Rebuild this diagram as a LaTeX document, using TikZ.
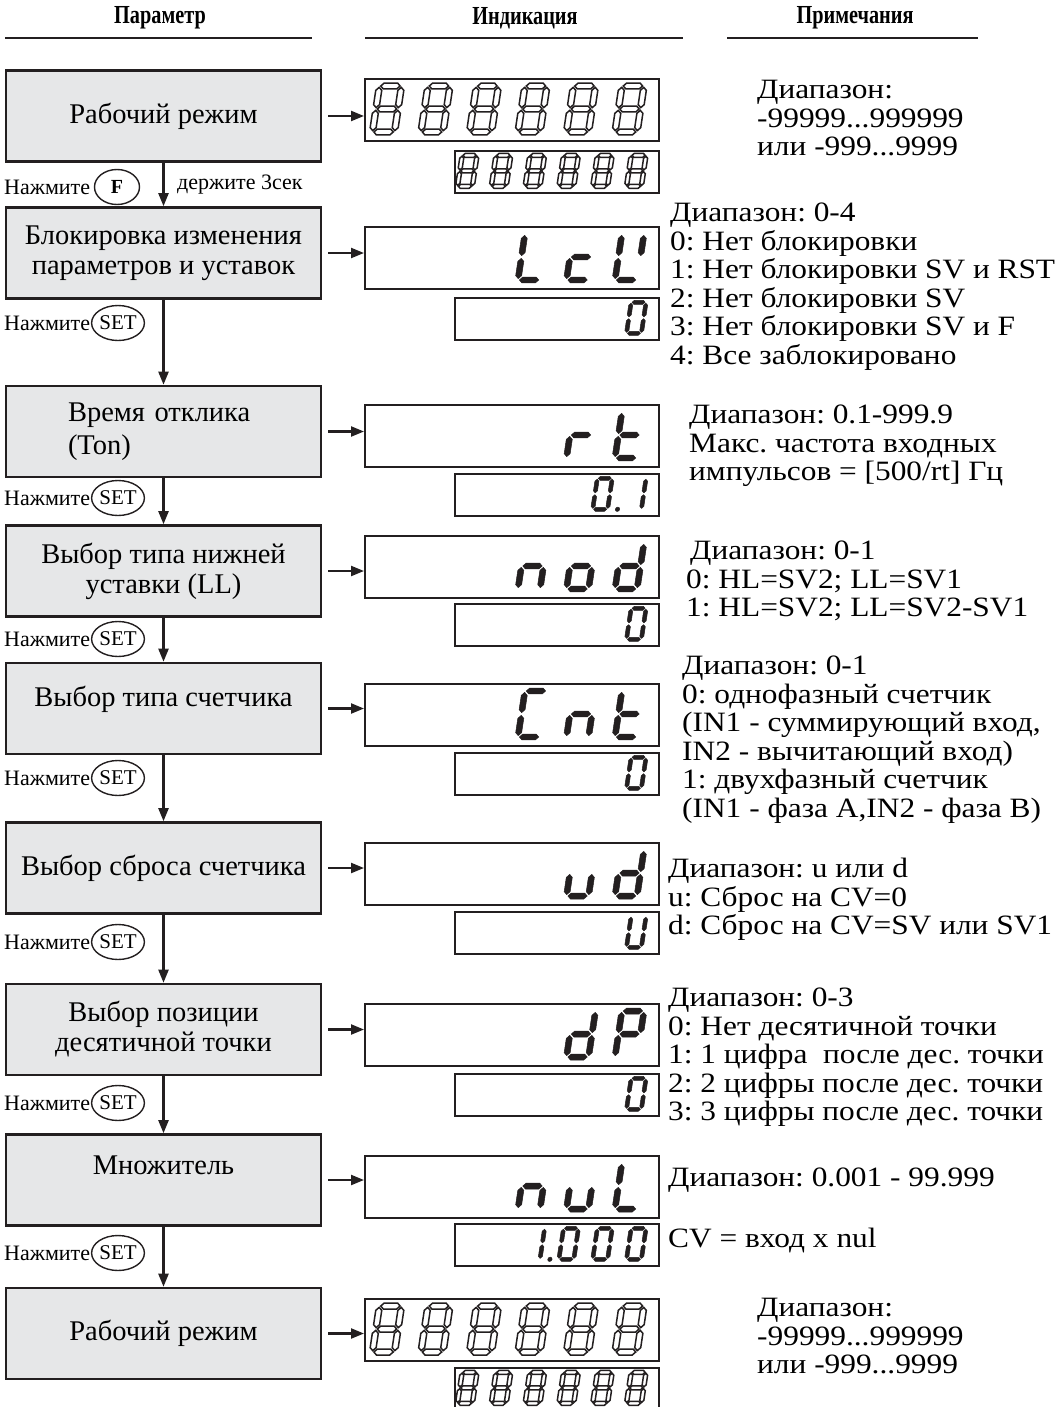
\documentclass[tikz,border=0pt]{standalone}
\usepackage{fontspec}
\setmainfont{Liberation Serif}
\newfontfamily\widefont{Liberation Serif}[FakeStretch=1.12]
\newfontfamily\narrowfont{Liberation Serif}[FakeStretch=0.78]
\usetikzlibrary{arrows.meta,shapes.geometric}

\definecolor{ink}{HTML}{231F20}
\definecolor{boxgray}{HTML}{E6E7E8}

% segments of one digit, unit cell 0.48 wide and 1 high
\newcommand{\hseg}[1]{\path[seg] (0.03,#1) -- (0.095,#1+0.065) -- (0.385,#1+0.065) -- (0.45,#1) -- (0.385,#1-0.065) -- (0.095,#1-0.065) -- cycle;}
\newcommand{\vseg}[3]{\path[seg] (#1,#2+0.03) -- (#1+0.065,#2+0.095) -- (#1+0.065,#3-0.095) -- (#1,#3-0.03) -- (#1-0.065,#3-0.095) -- (#1-0.065,#2+0.095) -- cycle;}
\newcommand{\segA}{\hseg{1}}
\newcommand{\segB}{\vseg{0.48}{0.5}{1}}
\newcommand{\segC}{\vseg{0.48}{0}{0.5}}
\newcommand{\segD}{\hseg{0}}
\newcommand{\segE}{\vseg{0}{0}{0.5}}
\newcommand{\segF}{\vseg{0}{0.5}{1}}
\newcommand{\segG}{\hseg{0.5}}
\newcommand{\segP}{\path[seg] (0.8,0) circle[radius=0.07];}

% x, y of lower left corner, height, style, segments
\newcommand{\lcd}[5]{%
  \begin{scope}[shift={(#1,#2)}, x={(#3*1pt,0pt)}, y={(#3*0.15pt,#3*1pt)}, seg/.style={#4}]
    \foreach \sg in {#5} {\csname seg\sg\endcsname}
  \end{scope}}
% display top, place from the right, style, segments
\newcommand{\bigch}[4]{\lcd{615-48.5*#2}{#1+54}{46}{#3}{#4}}
\newcommand{\smallch}[4]{\lcd{626.5-33.8*#2}{#1+36.3}{31}{#3}{#4}}

\begin{document}
\frenchspacing
\begin{tikzpicture}[x=1pt, y=-1pt,
  param/.style={draw=ink, line width=2.6pt, fill=boxgray, minimum width=315pt, minimum height=91pt, inner sep=0pt, align=center, font=\fontsize{28.5}{30}\selectfont},
  label text/.style={font=\fontsize{28.5}{30}\selectfont},
  bigdisp/.style={draw=ink, line width=1.8pt, fill=white, minimum width=294pt, minimum height=62pt, anchor=north west, inner sep=0pt},
  smalldisp/.style={bigdisp, minimum width=204pt, minimum height=42pt},
  btn/.style={ellipse, draw=ink, line width=1.4pt, minimum width=45pt, minimum height=35pt, inner sep=0pt, font=\fontsize{21}{24}\selectfont},
  press/.style={anchor=west, inner sep=0pt, font=\fontsize{22}{24}\selectfont},
  flow/.style={draw=ink, line width=2.2pt, -{Triangle[length=13pt,width=10pt]}},
  note/.style={anchor=north west, align=left, inner sep=0pt, font=\widefont\fontsize{28}{28.5}\selectfont},
  head/.style={font=\narrowfont\fontsize{26}{28}\selectfont\bfseries},
  lit/.style={fill=ink, draw=ink, line width=0.5pt},
  ghost/.style={fill=white, draw=ink, line width=1.5pt}]
  \useasboundingbox (0,0) rectangle (1061,1407);

  % headings
  \node[head] (h1) at (160,18) {Параметр};
  \node[head] (h2) at (525,18) {Индикация};
  \node[head] (h3) at (855,18) {Примечания};
  \draw[ink, line width=2.5pt] (5,38) -- (312,38);
  \draw[ink, line width=2.5pt] (365,38) -- (683,38);
  \draw[ink, line width=2.5pt] (727,38) -- (978,38);

  % parameters
  \node[param] (p1) at (163.5,116) {Рабочий режим};
  \node[param] (p2) at (163.5,253) {Блокировка изменения\\параметров и уставок};
  \node[param, text width=191pt, align=left] (p3) at (163.5,431.5) {Время отклика\\[3pt](Ton)};
  \node[param] (p4) at (163.5,571) {Выбор типа нижней\\уставки (LL)};
  \node[param] (p5) at (163.5,708.5) {};
  \node[label text] (t5) at (163.5,699) {Выбор типа счетчика};
  \node[param] (p6) at (163.5,868) {Выбор сброса счетчика};
  \node[param] (p7) at (163.5,1029.5) {Выбор позиции\\десятичной точки};
  \node[param] (p8) at (163.5,1180) {};
  \node[label text] (t8) at (163.5,1165) {Множитель};
  \node[param] (p9) at (163.5,1333.5) {Рабочий режим};

  \foreach \a/\b in {p1/p2,p2/p3,p3/p4,p4/p5,p5/p6,p6/p7,p7/p8,p8/p9}
    \draw[flow] (\a) -- (\b);

  % keys
  \node[press] (n0) at (4,187) {Нажмите};
  \node[btn, font=\fontsize{20}{24}\selectfont\bfseries] (b0) at (117,187) {F};
  \node[press] (k0) at (177,185) {держите 3сек};
  \foreach \y [count=\i] in {323,498,639,778,942,1103,1253} {
    \node[press] (n\i) at (4,\y) {Нажмите};
    \node[btn] (b\i) at (118,\y) {SET};
  }

  % displays
  \node[bigdisp] (d1) at (364,78) {};    \node[smalldisp] (s1) at (454,150) {};
  \node[bigdisp] (d2) at (364,226) {};   \node[smalldisp] (s2) at (454,297) {};
  \node[bigdisp] (d3) at (364,404) {};   \node[smalldisp] (s3) at (454,473) {};
  \node[bigdisp] (d4) at (364,535) {};   \node[smalldisp] (s4) at (454,603) {};
  \node[bigdisp] (d5) at (364,683) {};   \node[smalldisp] (s5) at (454,752) {};
  \node[bigdisp] (d6) at (364,842) {};   \node[smalldisp] (s6) at (454,911) {};
  \node[bigdisp] (d7) at (364,1003) {};  \node[smalldisp] (s7) at (454,1073) {};
  \node[bigdisp] (d8) at (364,1155) {};  \node[smalldisp] (s8) at (454,1223) {};
  \node[bigdisp] (d9) at (364,1298) {};  \node[smalldisp] (s9) at (454,1367) {};

  \foreach \i in {1,...,9}
    \draw[flow, shorten <=6pt] (p\i.east) -- (p\i.east -| d\i.west);

  \foreach \k in {0,...,5} {
    \bigch{78}{\k}{ghost}{A,B,C,D,E,F,G}
    \smallch{150}{\k}{ghost}{A,B,C,D,E,F,G}
    \bigch{1298}{\k}{ghost}{A,B,C,D,E,F,G}
    \smallch{1367}{\k}{ghost}{A,B,C,D,E,F,G}
  }
  % LcU / 0
  \bigch{226}{0}{lit}{B,D,E,F}
  \bigch{226}{1}{lit}{D,E,G}
  \bigch{226}{2}{lit}{D,E,F}
  \smallch{297}{0}{lit}{A,B,C,D,E,F}
  % rt / 0.1
  \bigch{404}{0}{lit}{D,E,F,G}
  \bigch{404}{1}{lit}{E,G}
  \smallch{473}{0}{lit}{B,C}
  \smallch{473}{1}{lit}{A,B,C,D,E,F,P}
  % nod / 0
  \bigch{535}{0}{lit}{B,C,D,E,G}
  \bigch{535}{1}{lit}{C,D,E,G}
  \bigch{535}{2}{lit}{C,E,G}
  \smallch{603}{0}{lit}{A,B,C,D,E,F}
  % Cnt / 0
  \bigch{683}{0}{lit}{D,E,F,G}
  \bigch{683}{1}{lit}{C,E,G}
  \bigch{683}{2}{lit}{A,D,E,F}
  \smallch{752}{0}{lit}{A,B,C,D,E,F}
  % ud / U
  \bigch{842}{0}{lit}{B,C,D,E,G}
  \bigch{842}{1}{lit}{C,D,E}
  \smallch{911}{0}{lit}{B,C,D,E,F}
  % dP / 0
  \bigch{1003}{0}{lit}{A,B,E,F,G}
  \bigch{1003}{1}{lit}{B,C,D,E,G}
  \smallch{1073}{0}{lit}{A,B,C,D,E,F}
  % nuL / 1.000
  \bigch{1155}{0}{lit}{D,E,F}
  \bigch{1155}{1}{lit}{C,D,E}
  \bigch{1155}{2}{lit}{C,E,G}
  \foreach \k in {0,1,2} {\smallch{1223}{\k}{lit}{A,B,C,D,E,F}}
  \smallch{1223}{3}{lit}{B,C,P}

  % remarks
  \node[note] (r1) at (757,80) {Диапазон:\\-99999...999999\\или -999...9999};
  \node[note] (r2) at (670,203) {Диапазон: 0-4\\0: Нет блокировки\\1: Нет блокировки SV и RST\\2: Нет блокировки SV\\3: Нет блокировки SV и F\\4: Все заблокировано};
  \node[note] (r3) at (689,405) {Диапазон: 0.1-999.9\\Макс. частота входных\\импульсов = [500/rt] Гц};
  \node[note] (r4) at (686,541) {\hspace{4pt}Диапазон: 0-1\\0: HL=SV2; LL=SV1\\1: HL=SV2; LL=SV2-SV1};
  \node[note] (r5) at (682,656) {Диапазон: 0-1\\0: однофазный счетчик\\(IN1 - суммирующий вход,\\IN2 - вычитающий вход)\\1: двухфазный счетчик\\(IN1 - фаза A,IN2 - фаза B)};
  \node[note] (r6) at (668,858) {Диапазон: u или d\\u: Сброс на CV=0\\d: Сброс на CV=SV или SV1};
  \node[note] (r7) at (668,988) {Диапазон: 0-3\\0: Нет десятичной точки\\1: 1 цифра\ \ после дес. точки\\2: 2 цифры после дес. точки\\3: 3 цифры после дес. точки};
  \node[note] (r8) at (668,1168) {Диапазон: 0.001 - 99.999};
  \node[note] (r9) at (668,1228) {CV = вход x nul};
  \node[note] (r10) at (757,1298) {Диапазон:\\-99999...999999\\или -999...9999};
\end{tikzpicture}
\end{document}
